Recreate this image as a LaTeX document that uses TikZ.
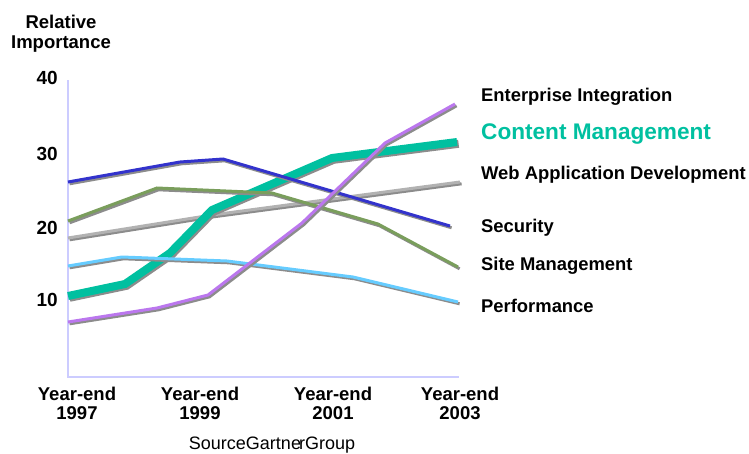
\documentclass[tikz,border=0pt]{standalone}
\usepackage{fontspec}
\setmainfont{Liberation Sans}
\usetikzlibrary{positioning}

\definecolor{axisblue}{RGB}{204,204,255}
\definecolor{secblue}{RGB}{51,51,204}
\definecolor{sitegreen}{RGB}{122,158,92}
\definecolor{webgray}{RGB}{178,178,178}
\definecolor{perfblue}{RGB}{102,204,255}
\definecolor{cmteal}{RGB}{0,192,160}
\definecolor{entpurple}{RGB}{187,119,238}
\definecolor{shadowgray}{RGB}{140,140,140}

\begin{document}
\begin{tikzpicture}[
  x=1pt, y=-1pt,
  shade/.style={shadowgray, shift={(1.6,1.8)}},
  tick/.style={font=\bfseries\fontsize{19}{19}\selectfont, anchor=east, inner sep=0pt},
  year/.style={font=\bfseries\fontsize{18.5}{19}\selectfont, align=center, inner sep=0pt},
  legend/.style={font=\bfseries\fontsize{18.4}{19}\selectfont, anchor=west, inner sep=0pt}
]
\useasboundingbox (0,0) rectangle (749,453);

% Axes
\draw[axisblue, line width=2pt] (68,80) -- (68,377) -- (459,377);

% Axis labels
\node[font=\bfseries\fontsize{18.5}{20}\selectfont, align=center, inner sep=0pt] (ytitle) at (61,34) {Relative\\Importance};
\node[tick] (t40) at (58,78) {40};
\node[tick] (t30) at (58,154) {30};
\node[tick] (t20) at (58,228) {20};
\node[tick] (t10) at (58,300) {10};

\node[year] (y97) at (77,403.5) {Year-end\\1997};
\node[year] (y99) at (200,403.5) {Year-end\\1999};
\node[year] (y01) at (333,403.5) {Year-end\\2001};
\node[year] (y03) at (460,403.5) {Year-end\\2003};

% Series (shadow first, then the line)
\foreach \col/\wd/\pts in {
  webgray/3/{(68,238) -- (212,215) -- (460,182)},
  cmteal/8/{(68,296) -- (125,284) -- (170,253) -- (212,210) -- (332,158) -- (457,142)},
  sitegreen/3/{(68,221) -- (157,188) -- (272,193) -- (378,224) -- (458,267)},
  perfblue/3/{(68,266) -- (122,257) -- (227,261) -- (353,277) -- (458,302)},
  secblue/3/{(68,182) -- (180,162) -- (223,159) -- (450,226)},
  entpurple/3/{(68,322) -- (157,308) -- (208,295) -- (302,223) -- (385,143) -- (455,104)}}
{
  \draw[shade, line width=\wd pt] \pts;
  \draw[\col, line width=\wd pt] \pts;
}

% Legend
\node[legend] (lent) at (481,97) {Enterprise Integration};
\node[legend, cmteal, font=\bfseries\fontsize{22.6}{23}\selectfont] (lcm) at (481,134.5) {Content Management};
\node[legend] (lweb) at (481,175) {Web Application Development};
\node[legend] (lsec) at (481,227.5) {Security};
\node[legend] (lsite) at (481,266) {Site Management};
\node[legend] (lperf) at (481,306) {Performance};

% Source
\node[font=\fontsize{18}{18}\selectfont, inner sep=0pt] (src) at (272,445) {SourceGartne\kern-2pt rGroup};

\end{tikzpicture}
\end{document}
